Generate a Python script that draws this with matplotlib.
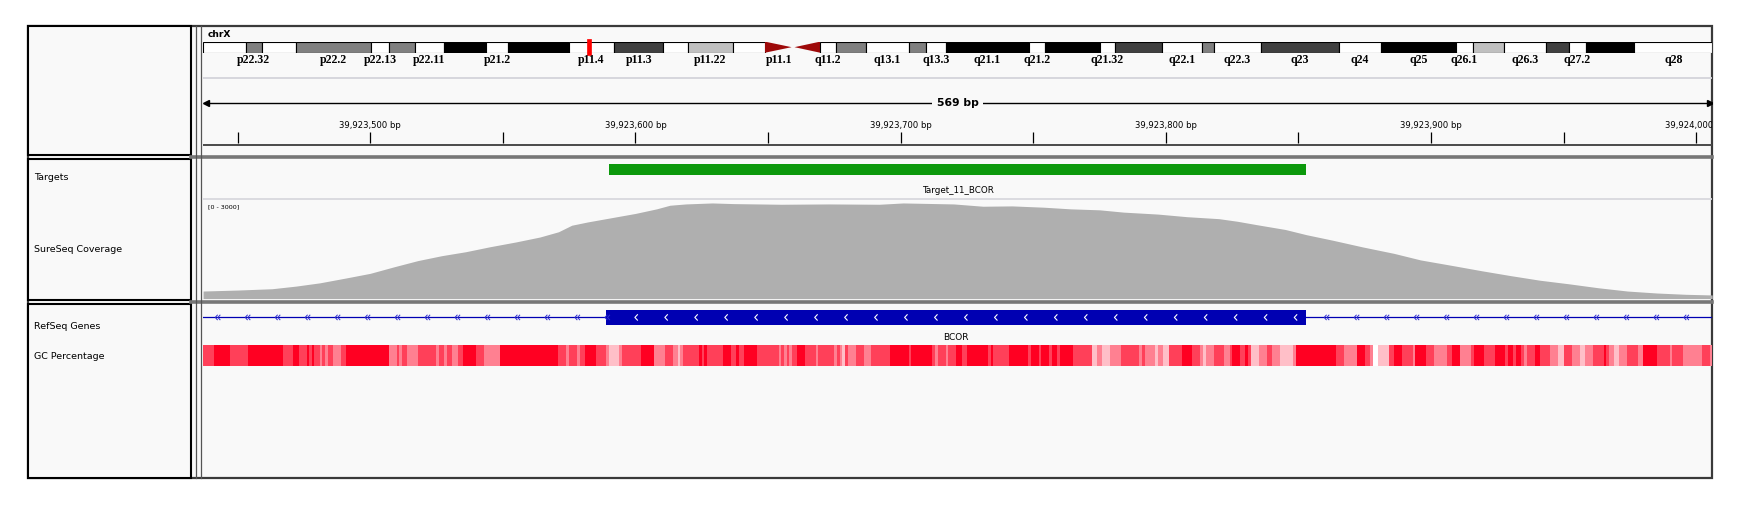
import numpy as np
import matplotlib.pyplot as plt
from matplotlib.patches import Rectangle, Polygon
from matplotlib.collections import LineCollection

# ---- data ----
chrom = "chrX"
chr_len = 156040895
view_start = 39923437
view_end = 39924006

# hg38 chrX cytobands (start in Mb)
band_start = [0.0, 4.4, 6.1, 9.6, 17.4, 19.2, 21.9, 24.9, 29.3, 31.5, 37.8, 42.5, 47.6, 50.1,
              54.8, 58.1, 61.0, 63.8, 65.4, 68.5, 73.0, 74.7, 76.8, 85.4, 87.0, 92.7, 94.3,
              99.1, 103.3, 104.5, 109.4, 117.4, 121.8, 129.5, 131.3, 134.5, 138.9, 141.2,
              143.0, 148.0]
band_name = ["p22.33", "p22.32", "p22.31", "p22.2", "p22.13", "p22.12", "p22.11", "p21.3",
             "p21.2", "p21.1", "p11.4", "p11.3", "p11.23", "p11.22", "p11.21", "p11.1",
             "q11.1", "q11.2", "q12", "q13.1", "q13.2", "q13.3", "q21.1", "q21.2", "q21.31",
             "q21.32", "q21.33", "q22.1", "q22.2", "q22.3", "q23", "q24", "q25", "q26.1",
             "q26.2", "q26.3", "q27.1", "q27.2", "q27.3", "q28"]
band_stain = ["gneg", "gpos50", "gneg", "gpos50", "gneg", "gpos50", "gneg", "gpos100",
              "gneg", "gpos100", "gneg", "gpos75", "gneg", "gpos25", "gneg", "acen",
              "acen", "gneg", "gpos50", "gneg", "gpos50", "gneg", "gpos100", "gneg",
              "gpos100", "gneg", "gpos75", "gneg", "gpos50", "gneg", "gpos75", "gneg",
              "gpos100", "gneg", "gpos25", "gneg", "gpos75", "gneg", "gpos100", "gneg"]
shown_labels = ["p22.32", "p22.2", "p22.13", "p22.11", "p21.2", "p11.4", "p11.3", "p11.22",
                "p11.1", "q11.2", "q13.1", "q13.3", "q21.1", "q21.2", "q21.32", "q22.1",
                "q22.3", "q23", "q24", "q25", "q26.1", "q26.3", "q27.2", "q28"]

target_start = 39923590
target_end = 39923853
target_name = "Target_11_BCOR"

exon_start = 39923589
exon_end = 39923853
gene_name = "BCOR"

# coverage (offset from view start, depth)
cov_offset = [0, 13, 26, 35, 44, 54, 63, 72, 81, 90, 99, 108, 118, 127, 134, 139, 145, 154,
              163, 171, 176, 182, 192, 200, 218, 236, 255, 264, 283, 294, 305, 317, 327, 338,
              347, 360, 371, 383, 390, 397, 408, 416, 426, 437, 449, 459, 471, 482, 493, 504,
              515, 526, 537, 548, 559, 569]
cov_depth = [230, 260, 300, 380, 480, 630, 770, 970, 1160, 1310, 1430, 1580, 1730, 1880, 2040,
             2240, 2340, 2470, 2600, 2740, 2850, 2890, 2920, 2900, 2880, 2890, 2880, 2920, 2890,
             2820, 2830, 2790, 2740, 2710, 2640, 2580, 2500, 2440, 2360, 2260, 2110, 1950, 1780,
             1580, 1380, 1180, 1010, 850, 700, 560, 450, 330, 230, 170, 130, 110]
cov_max = 3000

# GC percentage runs (offset from view start, percent)
gc_start = [0, 4, 10, 17, 30, 34, 36, 39, 40, 41, 42, 44, 45, 46, 47, 49, 52, 54, 70, 73, 74,
            75, 77, 81, 88, 89, 91, 92, 94, 96, 98, 103, 106, 112, 134, 137, 138, 141, 142, 144,
            148, 152, 153, 157, 158, 165, 170, 174, 177, 179, 180, 181, 187, 188, 189, 190, 196,
            199, 201, 202, 204, 209, 217, 218, 219, 220, 221, 222, 224, 227, 231, 232, 238, 239,
            240, 241, 242, 243, 246, 249, 252, 259, 266, 267, 275, 276, 277, 280, 281, 284, 286,
            288, 296, 297, 298, 304, 311, 312, 315, 316, 319, 320, 322, 323, 328, 335, 337, 339,
            342, 346, 353, 354, 355, 359, 360, 362, 364, 369, 373, 376, 377, 378, 381, 385, 387,
            388, 391, 393, 394, 395, 398, 401, 403, 406, 411, 412, 427, 430, 435, 438, 440, 441,
            443, 447, 449, 452, 456, 457, 461, 464, 469, 471, 474, 478, 479, 483, 487, 491, 492,
            494, 495, 497, 498, 499, 502, 504, 508, 511, 513, 516, 519, 521, 524, 528, 529, 530,
            532, 534, 537, 541, 543, 548, 553, 554, 558, 565, 568]
gc_pct = [75, 100, 75, 100, 75, 100, 75, 100, 75, 100, 75, 50, 75, 50, 75, 50, 75, 100, 50, 75,
          50, 75, 50, 75, 50, 75, 50, 75, 50, 75, 100, 75, 50, 100, 75, 50, 75, 50, 75, 100,
          75, 50, 25, 50, 75, 100, 50, 75, 50, 25, 50, 75, 100, 75, 100, 75, 100, 75, 100, 75,
          100, 75, 50, 75, 50, 75, 50, 75, 100, 75, 50, 75, 50, 75, 50, 25, 75, 50, 75, 50,
          75, 100, 75, 100, 75, 50, 75, 50, 75, 100, 75, 100, 75, 100, 75, 100, 75, 100, 75,
          100, 75, 100, 75, 100, 75, 25, 50, 25, 50, 75, 50, 75, 50, 25, 50, 25, 75, 100, 75,
          50, 25, 50, 75, 50, 75, 100, 75, 100, 75, 25, 50, 75, 50, 25, 50, 100, 75, 50, 100,
          75, 50, 0, 25, 75, 100, 75, 50, 100, 75, 50, 75, 100, 50, 75, 100, 75, 100, 75, 100,
          75, 100, 75, 50, 75, 100, 75, 50, 25, 75, 50, 25, 50, 75, 100, 75, 50, 25, 50, 75,
          50, 100, 75, 50, 75, 50, 75, 50]

track_names = ["Targets", "SureSeq Coverage", "RefSeq Genes", "GC Percentage"]

# ---- layout (reference pixel grid) ----
W, H = 1568.0, 455.0
BG = "#f9f9f9"


def rect(x0, y0, x1, y1):
    return [x0 / W, 1 - y1 / H, (x1 - x0) / W, (y1 - y0) / H]


fig = plt.figure(figsize=(17.4, 5.05), dpi=100)
fig.patch.set_facecolor("white")

# frame / panel boxes
bg = fig.add_axes([0, 0, 1, 1])
bg.set_xlim(0, W)
bg.set_ylim(H, 0)
bg.axis("off")
bg.add_patch(Rectangle((25, 23), 1518, 408, facecolor=BG, edgecolor="#3a3a3a", lw=1.6))
for y0, y1 in [(23, 140), (143, 270), (274, 431)]:
    bg.add_patch(Rectangle((25.5, y0), 146.5, y1 - y0, facecolor=BG, edgecolor="black", lw=1.5))
bg.plot([172, 1543], [141.5, 141.5], color="#777777", lw=2.6)
bg.plot([172, 1543], [272, 272], color="#777777", lw=2.6)
bg.plot([176.5, 176.5], [23, 431], color="#555555", lw=0.9)
bg.plot([181.5, 181.5], [23, 431], color="#555555", lw=0.9)
label_y = [160, 225, 294, 321]
for name, y in zip(track_names, label_y):
    bg.text(31, y, name, fontsize=6.8, va="center", ha="left", color="black")

# ---- header: cytoband ----
cyto = fig.add_axes(rect(183, 37.5, 1543, 47.5))
cyto.set_xlim(0, chr_len)
cyto.set_ylim(0, 1)
cyto.axis("off")
stain_color = {"gneg": "white", "gpos25": "#c0c0c0", "gpos50": "#808080",
               "gpos75": "#404040", "gpos100": "black"}
band_bounds = [b * 1e6 for b in band_start] + [chr_len]
for i, name in enumerate(band_name):
    s, e = band_bounds[i], band_bounds[i + 1]
    st = band_stain[i]
    if st == "acen":
        if name.startswith("p"):
            pts = [(s, 0), (s, 1), (e - 0.15e6, 0.5)]
        else:
            pts = [(e, 0), (e, 1), (s + 0.15e6, 0.5)]
        cyto.add_patch(Polygon(pts, closed=True, facecolor="#9e0a0a", edgecolor="none"))
    else:
        cyto.bar(s, 1, width=e - s, bottom=0, align="edge",
                 color=stain_color[st], edgecolor="black", lw=0.8)
    if name in shown_labels:
        cyto.text((s + e) / 2, -0.62, name, ha="center", va="center", fontsize=8.6,
                  fontweight="bold", family="Liberation Serif", clip_on=False)
mid = (view_start + view_end) / 2
cyto.add_patch(Rectangle((mid - 0.22e6, -0.25), 0.44e6, 1.5, facecolor="red",
                         edgecolor="red", lw=0.5, clip_on=False))

# ---- header: ruler ----
hdr = fig.add_axes(rect(183, 23, 1543, 140))
hdr.set_xlim(view_start, view_end)
hdr.set_ylim(140, 23)
hdr.axis("off")
hdr.text(0.003, 31.5, chrom, transform=hdr.get_yaxis_transform(), fontsize=6.6,
         fontweight="bold", va="center", ha="left")
hdr.axhline(70, color="#d4d4da", lw=1.3)
hdr.plot([view_start + 1, view_end - 1], [93, 93], color="black", lw=1.0)
hdr.plot(view_start + 1, 93, marker="<", ms=4.5, color="black")
hdr.plot(view_end - 1, 93, marker=">", ms=4.5, color="black")
hdr.text(mid, 93, f"{view_end - view_start} bp", ha="center", va="center", fontsize=7.8,
         fontweight="bold", bbox=dict(facecolor=BG, edgecolor="none", pad=3.5))
tick_pos = np.arange(39923450, view_end + 1, 50)
hdr.vlines(tick_pos, 119, 128.5, color="black", lw=0.9)
for p in tick_pos:
    if p % 100 == 0:
        hdr.text(p, 113, f"{p:,} bp", ha="center", va="center", fontsize=6.1, clip_on=True)
hdr.axhline(130.5, color="#4a4a4a", lw=1.4)

# ---- targets + coverage ----
trk = fig.add_axes(rect(183, 143, 1543, 270))
trk.set_xlim(view_start, view_end)
trk.set_ylim(270, 143)
trk.axis("off")
trk.bar(target_start, 10, width=target_end - target_start, bottom=148, align="edge",
        color="#0c990c", lw=0)
trk.text((target_start + target_end) / 2, 172, target_name, ha="center", va="center",
         fontsize=6.3)
trk.axhline(179.5, color="#d8d8de", lw=1.3)

cov = fig.add_axes(rect(183, 180.5, 1543, 269))
cov.set_xlim(view_start, view_end)
cov.set_ylim(0, cov_max)
cov.axis("off")
cov_x = view_start + np.array(cov_offset)
cov.fill_between(cov_x, 0, cov_depth, color="#afafaf", lw=0)
cov.text(0.003, 0.96, f"[0 - {cov_max}]", transform=cov.transAxes, fontsize=4.6,
         va="top", ha="left")

# ---- genes + GC ----
feat = fig.add_axes(rect(183, 274, 1543, 431))
feat.set_xlim(view_start, view_end)
feat.set_ylim(431, 274)
feat.axis("off")
blue = "#0000b2"
feat.axhline(286, color=blue, lw=0.9)
feat.bar(exon_start, 13, width=exon_end - exon_start, bottom=279.5, align="edge",
         color=blue, lw=0)
arrow_x = view_start + np.arange(4.6, view_end - view_start, 11.3)
segs_out, segs_in = [], []
for ax_ in arrow_x:
    if exon_start < ax_ < exon_end:
        segs_in.append([(ax_ + 1.1, 283.2), (ax_, 286), (ax_ + 1.1, 288.8)])
    else:
        for k in (0, 1.0):
            segs_out.append([(ax_ + k + 0.9, 283.6), (ax_ + k, 286), (ax_ + k + 0.9, 288.4)])
feat.add_collection(LineCollection(segs_out, colors="#2a2ad0", lw=0.7))
feat.add_collection(LineCollection(segs_in, colors="white", lw=0.8))
feat.text((exon_start + exon_end) / 2, 304, gene_name, ha="center", va="center", fontsize=6.5)

red = np.array([1.0, 0.0, 34 / 255])
gc_edges = list(gc_start) + [view_end - view_start]
gc_w = np.diff(gc_edges)
gc_colors = [tuple((1 - v / 100) * np.ones(3) + (v / 100) * red) for v in gc_pct]
feat.bar(view_start + np.array(gc_start), 19, width=gc_w, bottom=311, align="edge",
         color=gc_colors, lw=0)

fig.savefig("out.png", dpi=100)
